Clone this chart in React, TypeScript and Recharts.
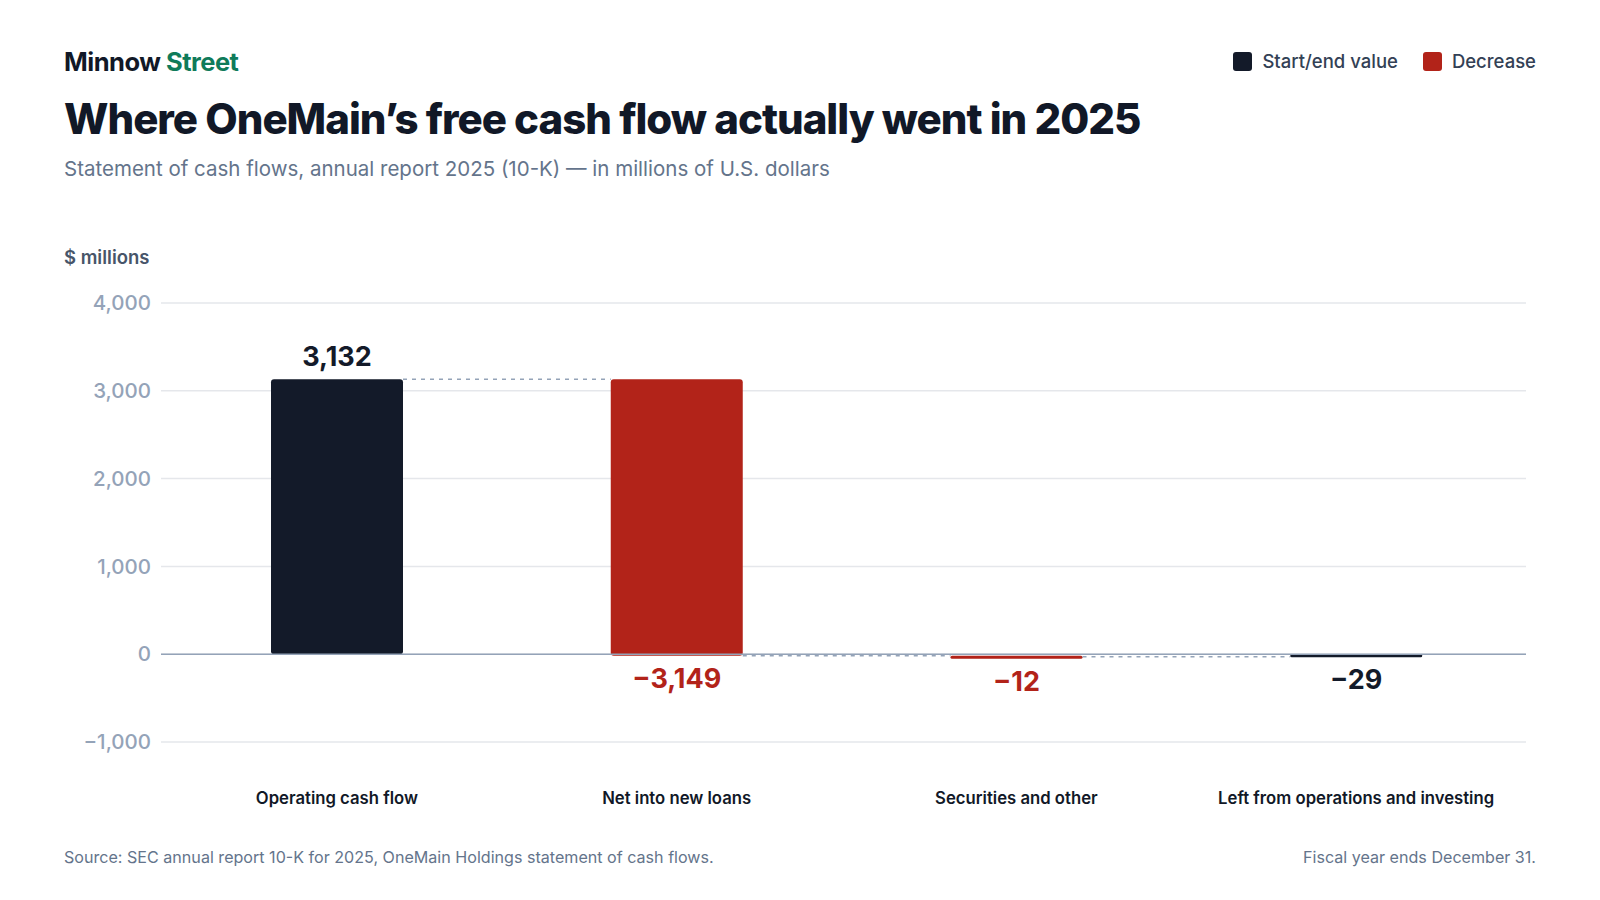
import React from "react";
import {
  BarChart,
  Bar,
  XAxis,
  YAxis,
  CartesianGrid,
  ReferenceLine,
} from "recharts";

const categories = [
  "Operating cash flow",
  "Net into new loans",
  "Securities and other",
  "Left from operations and investing",
];
const amounts = [3132, -3149, -12, -29];
const kinds = ["total", "decrease", "decrease", "total"];
const yTicks = [-1000, 0, 1000, 2000, 3000, 4000];

const DARK = "#131a29";
const RED = "#b22319";
const FONT = "Inter, 'Noto Sans', sans-serif";

// chart geometry
const CHART_W = 1600;
const Y_W = 161;
const RIGHT = 74;
const PAD_LEFT = 6;
const BAND = (CHART_W - Y_W - RIGHT - PAD_LEFT) / categories.length;

// running totals -> [low, high] ranges for each bar
let running = 0;
const rows = categories.map((name, i) => {
  const v = amounts[i];
  let low: number;
  let high: number;
  let end: number;
  if (kinds[i] === "total") {
    low = Math.min(0, v);
    high = Math.max(0, v);
    end = v;
  } else {
    const start = running;
    end = start + v;
    low = Math.min(start, end);
    high = Math.max(start, end);
  }
  running = end;
  return { name, range: [low, high], value: v, kind: kinds[i] };
});

const fmt = (v: number) =>
  (v < 0 ? "\u2212" : "") + Math.abs(v).toLocaleString("en-US");

const WaterfallBar = (props: any) => {
  const { x, y, width, height, index, payload } = props;
  const color = payload.kind === "decrease" ? RED : DARK;
  const gap = BAND - width;
  const top = y;
  const bottom = y + height;
  // the level the running total ends at, where the connector starts
  const endY = payload.value < 0 ? bottom : top;
  const isLast = index === rows.length - 1;
  const above = payload.value >= 0;
  const h = Math.max(height, 3);
  const drawTop = above ? bottom - h : top;
  const r = Math.min(3, h / 2);
  return (
    <g>
      <rect x={x} y={drawTop} width={width} height={h} rx={r} ry={r} fill={color} />
      {!isLast && (
        <line
          x1={x + width}
          x2={x + width + gap}
          y1={endY}
          y2={endY}
          stroke="#94a3b8"
          strokeWidth={1.5}
          strokeDasharray="4 5"
        />
      )}
      <text
        x={x + width / 2}
        y={above ? drawTop - 13 : drawTop + h + 32}
        textAnchor="middle"
        fontFamily={FONT}
        fontSize={27}
        fontWeight={700}
        fill={color}
      >
        {fmt(payload.value)}
      </text>
    </g>
  );
};

const XTick = (props: any) => {
  const { x, y, payload } = props;
  return (
    <text
      x={x}
      y={y}
      dy={54}
      textAnchor="middle"
      fontFamily={FONT}
      fontSize={16.7}
      fontWeight={600}
      fill="#111827"
    >
      {payload.value}
    </text>
  );
};

export default function App() {
  return (
    <div
      style={{
        position: "absolute",
        left: 0,
        top: 0,
        width: 1600,
        height: 900,
        background: "#ffffff",
        fontFamily: FONT,
        overflow: "hidden",
      }}
    >
      <div
        style={{
          position: "absolute",
          left: 64,
          top: 46,
          fontSize: 25.5,
          fontWeight: 700,
          letterSpacing: -0.5,
          color: "#111827",
        }}
      >
        Minnow <span style={{ color: "#0f7b5a" }}>Street</span>
      </div>
      <div
        style={{
          position: "absolute",
          right: 64,
          top: 50,
          display: "flex",
          alignItems: "center",
          fontSize: 18.5,
          fontWeight: 500,
          color: "#334155",
        }}
      >
        <span style={{ width: 19, height: 19, borderRadius: 3, background: DARK, display: "inline-block", marginRight: 10 }} />
        <span style={{ marginRight: 25 }}>Start/end value</span>
        <span style={{ width: 19, height: 19, borderRadius: 3, background: RED, display: "inline-block", marginRight: 10 }} />
        <span>Decrease</span>
      </div>
      <div
        style={{
          position: "absolute",
          left: 64,
          top: 93,
          fontSize: 42,
          fontWeight: 800,
          letterSpacing: -1,
          color: "#111827",
          whiteSpace: "nowrap",
        }}
      >
        Where OneMain’s free cash flow actually went in 2025
      </div>
      <div
        style={{
          position: "absolute",
          left: 64,
          top: 156,
          fontSize: 20.5,
          color: "#64748b",
        }}
      >
        Statement of cash flows, annual report 2025 (10-K) — in millions of U.S. dollars
      </div>
      <div
        style={{
          position: "absolute",
          left: 64,
          top: 246,
          fontSize: 18.5,
          fontWeight: 600,
          color: "#475569",
        }}
      >
        $ millions
      </div>

      <div style={{ position: "absolute", left: 0, top: 0 }}>
        <BarChart
          width={CHART_W}
          height={825}
          data={rows}
          margin={{ top: 303, right: RIGHT, left: 0, bottom: 0 }}
          barSize={132}
        >
          <CartesianGrid vertical={false} stroke="#e5e7eb" strokeWidth={1.5} />
          <XAxis
            dataKey="name"
            axisLine={false}
            tickLine={false}
            height={83}
            padding={{ left: PAD_LEFT, right: 0 }}
            tick={<XTick />}
            interval={0}
          />
          <YAxis
            type="number"
            domain={[-1000, 4000]}
            ticks={yTicks}
            width={Y_W}
            axisLine={false}
            tickLine={false}
            tickMargin={4}
            tickFormatter={fmt}
            tick={{ fill: "#94a3b8", fontSize: 20.5, fontFamily: FONT, fontWeight: 500 }}
          />
          <ReferenceLine y={0} stroke="#94a3b8" strokeWidth={1.5} />
          <Bar
            dataKey="range"
            isAnimationActive={false}
            shape={<WaterfallBar />}
          />
        </BarChart>
      </div>

      <div
        style={{
          position: "absolute",
          left: 64,
          top: 847,
          fontSize: 16.1,
          color: "#64748b",
        }}
      >
        Source: SEC annual report 10-K for 2025, OneMain Holdings statement of cash flows.
      </div>
      <div
        style={{
          position: "absolute",
          right: 64,
          top: 847,
          fontSize: 16.1,
          color: "#64748b",
        }}
      >
        Fiscal year ends December 31.
      </div>
    </div>
  );
}
